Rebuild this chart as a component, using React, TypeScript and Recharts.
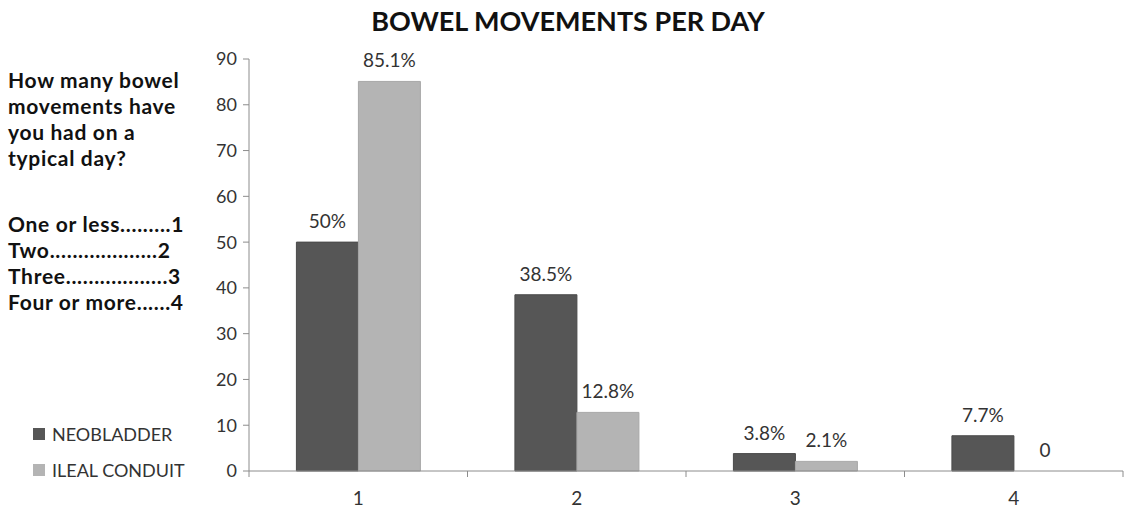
import { BarChart, Bar, XAxis, YAxis, Rectangle } from 'recharts';

const categories = ['1', '2', '3', '4'];
const neobladder = [50, 38.5, 3.8, 7.7];
const ilealConduit = [85.1, 12.8, 2.1, 0];
const yTicks = [0, 10, 20, 30, 40, 50, 60, 70, 80, 90];
const questionLines = ['How many bowel', 'movements have', 'you had on a', 'typical day?'];
const answerLines = ['One or less.........1', 'Two...................2', 'Three..................3', 'Four or more......4'];
const seriesNames = ['NEOBLADDER', 'ILEAL CONDUIT'];

const data = categories.map((c, i) => ({
  label: c,
  neo: neobladder[i],
  ileal: ilealConduit[i],
}));

const FONT = 'Lato, "DejaVu Sans", sans-serif';
const NEO_COLOR = '#565656';
const ILEAL_COLOR = '#b4b4b4';
const AXIS_COLOR = '#8c8c8c';
const TEXT_COLOR = '#333333';

const pct = (v: unknown) => (Number(v) === 0 ? '0' : `${v}%`);

// bar plus its value label; done in the shape so a zero bar still prints "0"
const LabeledBar = (props: any) => {
  const { x, y, width, height, payload, dataKey } = props;
  const value = payload?.[dataKey];
  const top = Math.min(Number(y), Number(y) + Number(height || 0));
  return (
    <g>
      {height > 0 && <Rectangle {...props} />}
      <text
        x={Number(x) + Number(width) / 2}
        y={top - 14}
        textAnchor="middle"
        fill={TEXT_COLOR}
        fontSize={19}
        fontFamily={FONT}
      >
        {pct(value)}
      </text>
    </g>
  );
};

// category ticks sit between the groups, labels in the middle
const XTick = (props: any) => {
  const { x, y, payload, index } = props;
  const half = payload?.offset ?? 109;
  return (
    <g>
      <line x1={x - half} x2={x - half} y1={y - 8} y2={y - 2} stroke={AXIS_COLOR} />
      {index === categories.length - 1 && (
        <line x1={x + half} x2={x + half} y1={y - 8} y2={y - 2} stroke={AXIS_COLOR} />
      )}
      <text x={x} y={y + 26} textAnchor="middle" fill={TEXT_COLOR} fontSize={19} fontFamily={FONT}>
        {payload.value}
      </text>
    </g>
  );
};

const App = () => {
  return (
    <div style={{ position: 'absolute', left: 0, top: 0, width: 1125, height: 509, background: '#fff', fontFamily: FONT }}>
      <BarChart
        width={1125}
        height={509}
        data={data}
        margin={{ top: 59, right: 2, left: 197, bottom: 0 }}
        barCategoryGap="21.7%"
        barGap={0}
      >
        <XAxis
          dataKey="label"
          height={38}
          axisLine={{ stroke: AXIS_COLOR }}
          tickLine={false}
          tick={<XTick />}
          interval={0}
        />
        <YAxis
          domain={[0, 90]}
          ticks={yTicks}
          width={52}
          axisLine={{ stroke: AXIS_COLOR }}
          tickLine={{ stroke: AXIS_COLOR }}
          tickSize={6}
          tickMargin={6}
          tick={{ fill: TEXT_COLOR, fontSize: 18, fontFamily: FONT }}
          interval={0}
        />
        <Bar
          dataKey="neo"
          name={seriesNames[0]}
          fill={NEO_COLOR}
          stroke="#4a4a4a"
          isAnimationActive={false}
          shape={(p: any) => <LabeledBar {...p} dataKey="neo" />}
        />
        <Bar
          dataKey="ileal"
          name={seriesNames[1]}
          fill={ILEAL_COLOR}
          stroke="#a8a8a8"
          isAnimationActive={false}
          shape={(p: any) => <LabeledBar {...p} dataKey="ileal" />}
        />
      </BarChart>

      <div
        style={{
          position: 'absolute', left: 368, width: 400, top: 4, textAlign: 'center',
          fontWeight: 700, fontSize: 27, color: '#111', whiteSpace: 'nowrap',
        }}
      >
        BOWEL MOVEMENTS PER DAY
      </div>

      <div
        style={{
          position: 'absolute', left: 8, top: 67, fontWeight: 700, fontSize: 21,
          letterSpacing: 0.7, color: '#111', lineHeight: '26px',
        }}
      >
        {questionLines.map((l) => <div key={l}>{l}</div>)}
        <div style={{ height: 40 }} />
        {answerLines.map((l) => <div key={l} style={{ whiteSpace: 'pre' }}>{l}</div>)}
      </div>

      <div style={{ position: 'absolute', left: 33, top: 416, fontSize: 18, color: TEXT_COLOR }}>
        {seriesNames.map((name, i) => (
          <div key={name} style={{ display: 'flex', alignItems: 'center', height: 36 }}>
            <span
              style={{
                width: 12, height: 12, marginRight: 7, display: 'inline-block',
                background: i === 0 ? NEO_COLOR : ILEAL_COLOR,
              }}
            />
            <span>{name}</span>
          </div>
        ))}
      </div>
    </div>
  );
};

export default App;
